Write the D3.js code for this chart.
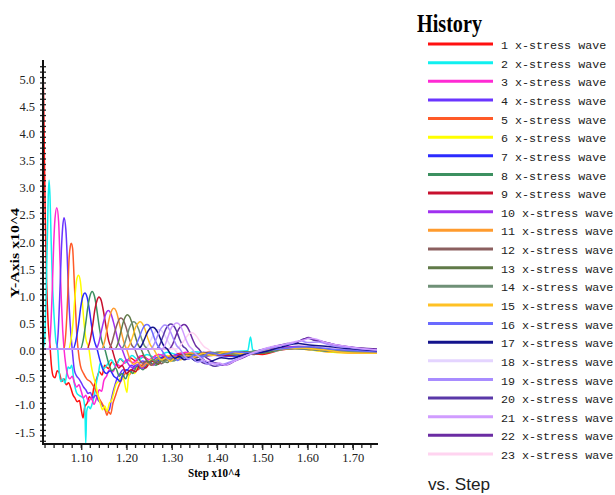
<!DOCTYPE html>
<html>
<head>
<meta charset="utf-8">
<script src="https://cdn.jsdelivr.net/npm/d3@7"></script>
<style>
  body { margin: 0; background: #fff; }
  svg { display: block; }
</style>
</head>
<body>
<div id="plot"></div>
<script>
/* Step 1
 * The data: one array of [step x10^4, value x10^4] pairs per wave
 */
// =================================
var wave1 = [[1.0155,5.22],[1.017,4.6],[1.0185,3.6],[1.0205,2.4],[1.0235,1.2],[1.027,0.45],[1.031,0.05],[1.034,-0.3],[1.038,-0.5],[1.042,-0.53],[1.047,-0.4],[1.052,-0.45],[1.057,-0.6],[1.062,-0.55],[1.067,-0.66],[1.072,-0.62],[1.077,-0.72],[1.082,-0.85],[1.086,-0.9],[1.091,-0.97],[1.096,-0.95],[1.1,-1.12],[1.104,-1.27],[1.108,-1.06],[1.113,-1.0],[1.118,-0.88],[1.123,-0.92],[1.128,-0.7],[1.134,-0.55],[1.14,-0.42],[1.146,-0.48],[1.152,-0.3],[1.16,-0.36],[1.168,-0.24],[1.176,-0.3],[1.186,-0.18],[1.196,-0.26],[1.208,-0.16],[1.22,-0.22],[1.235,-0.12],[1.25,-0.2],[1.27,-0.1],[1.29,-0.16],[1.32,-0.08],[1.35,-0.14],[1.38,-0.06],[1.42,-0.12],[1.46,-0.08],[1.5,-0.1],[1.54,-0.02],[1.58,0.02],[1.62,-0.01],[1.66,-0.05],[1.7,-0.07],[1.7535,-0.06]];
var wave2 = [[1.0155,0],[1.019,0.15],[1.022,0.9],[1.025,2.0],[1.027,2.8],[1.029,3.11],[1.031,2.8],[1.0335,2.0],[1.036,1.3],[1.04,0.6],[1.044,0.15],[1.048,0.0],[1.051,-0.4],[1.055,-0.6],[1.06,-0.55],[1.064,-0.63],[1.068,-0.45],[1.071,-0.33],[1.075,-0.36],[1.079,-0.3],[1.084,-0.6],[1.09,-0.81],[1.096,-0.86],[1.104,-0.9],[1.108,-1.1],[1.11,-1.73],[1.112,-1.15],[1.116,-1.06],[1.12,-1.1],[1.123,-1.04],[1.13,-0.81],[1.135,-0.55],[1.138,-0.45],[1.142,-0.26],[1.15,-0.36],[1.158,-0.28],[1.166,-0.2],[1.176,-0.32],[1.186,-0.18],[1.198,-0.25],[1.212,-0.12],[1.226,-0.2],[1.245,-0.1],[1.265,-0.16],[1.29,-0.06],[1.32,-0.12],[1.35,-0.05],[1.39,-0.1],[1.43,-0.05],[1.468,-0.03],[1.474,0.22],[1.479,-0.02],[1.51,-0.06],[1.55,0.0],[1.6,0.03],[1.65,-0.02],[1.7,-0.05],[1.7535,-0.04]];
var wave3 = [[1.0155,0],[1.028,0],[1.032,0.3],[1.036,1.1],[1.039,1.9],[1.042,2.4],[1.046,2.6],[1.05,2.35],[1.053,1.64],[1.056,0.9],[1.059,0.35],[1.062,0.0],[1.066,-0.3],[1.07,-0.48],[1.075,-0.55],[1.08,-0.5],[1.085,-0.62],[1.09,-0.7],[1.095,-0.66],[1.1,-0.78],[1.105,-0.9],[1.11,-0.85],[1.116,-0.97],[1.122,-0.9],[1.128,-1.02],[1.134,-0.9],[1.14,-0.75],[1.145,-0.78],[1.15,-0.58],[1.156,-0.5],[1.162,-0.38],[1.17,-0.42],[1.178,-0.28],[1.188,-0.32],[1.2,-0.2],[1.215,-0.25],[1.23,-0.13],[1.25,-0.2],[1.27,-0.1],[1.3,-0.15],[1.33,-0.06],[1.37,-0.12],[1.41,-0.08],[1.45,-0.11],[1.49,-0.06],[1.53,0.0],[1.57,0.04],[1.62,0.0],[1.67,-0.04],[1.7535,-0.05]];
var wave4 = [[1.0155,0],[1.045,0],[1.049,0.3],[1.053,1.1],[1.056,1.8],[1.059,2.25],[1.062,2.42],[1.066,2.2],[1.069,1.7],[1.072,1.0],[1.076,0.4],[1.08,0.0],[1.085,-0.4],[1.09,-0.5],[1.095,-0.55],[1.1,-0.62],[1.105,-0.7],[1.11,-0.75],[1.115,-0.82],[1.12,-0.8],[1.126,-0.9],[1.132,-0.85],[1.138,-0.95],[1.144,-1.0],[1.15,-1.08],[1.156,-1.15],[1.162,-1.12],[1.166,-0.95],[1.17,-0.8],[1.175,-0.65],[1.18,-0.52],[1.186,-0.45],[1.192,-0.38],[1.2,-0.4],[1.21,-0.3],[1.22,-0.33],[1.235,-0.22],[1.25,-0.25],[1.27,-0.15],[1.29,-0.2],[1.31,-0.1],[1.34,-0.15],[1.37,-0.06],[1.4,-0.12],[1.44,-0.14],[1.48,-0.08],[1.52,0.0],[1.56,0.03],[1.6,0.01],[1.65,-0.03],[1.7,-0.06],[1.7535,-0.05]];
var wave5 = [[1.0155,0],[1.062,0],[1.066,0.3],[1.07,0.95],[1.073,1.64],[1.076,1.9],[1.078,1.95],[1.081,1.85],[1.084,1.35],[1.087,0.8],[1.09,0.3],[1.093,0.0],[1.098,-0.3],[1.105,-0.45],[1.112,-0.55],[1.12,-0.6],[1.128,-0.7],[1.134,-0.8],[1.14,-0.92],[1.146,-1.0],[1.152,-1.1],[1.157,-1.22],[1.16,-1.15],[1.165,-1.2],[1.17,-1.0],[1.176,-0.85],[1.182,-0.7],[1.19,-0.55],[1.198,-0.45],[1.206,-0.48],[1.215,-0.35],[1.225,-0.38],[1.24,-0.25],[1.26,-0.28],[1.28,-0.15],[1.3,-0.2],[1.33,-0.1],[1.36,-0.14],[1.4,-0.07],[1.44,-0.1],[1.48,-0.05],[1.52,-0.02],[1.56,0.02],[1.61,-0.02],[1.66,-0.06],[1.7535,-0.07]];
var wave6 = [[1.0155,0],[1.072,0],[1.077,0.15],[1.082,0.5],[1.086,0.95],[1.09,1.28],[1.094,1.36],[1.098,1.25],[1.102,0.9],[1.106,0.5],[1.11,0.2],[1.117,0.0],[1.122,-0.3],[1.127,-0.5],[1.132,-0.65],[1.137,-0.85],[1.142,-1.0],[1.147,-1.12],[1.152,-1.05],[1.157,-1.15],[1.162,-1.0],[1.167,-0.95],[1.172,-0.8],[1.177,-0.65],[1.182,-0.6],[1.188,-0.52],[1.194,-0.56],[1.198,-0.72],[1.201,-0.8],[1.204,-0.55],[1.21,-0.42],[1.218,-0.45],[1.228,-0.3],[1.24,-0.34],[1.255,-0.2],[1.27,-0.25],[1.29,-0.12],[1.31,-0.18],[1.34,-0.08],[1.37,-0.13],[1.41,-0.06],[1.45,-0.12],[1.49,-0.04],[1.53,-0.02],[1.57,0.01],[1.62,-0.03],[1.68,-0.07],[1.7535,-0.06]];
var wave7 = [[1.0155,0],[1.082,0],[1.088,0.15],[1.094,0.45],[1.099,0.78],[1.104,0.98],[1.108,1.03],[1.113,0.95],[1.118,0.72],[1.123,0.42],[1.129,0.15],[1.135,0.0],[1.141,-0.2],[1.148,-0.38],[1.156,-0.45],[1.164,-0.4],[1.172,-0.5],[1.18,-0.55],[1.186,-0.6],[1.192,-0.46],[1.2,-0.38],[1.21,-0.42],[1.22,-0.3],[1.232,-0.35],[1.245,-0.22],[1.26,-0.28],[1.28,-0.15],[1.3,-0.2],[1.33,-0.1],[1.36,-0.15],[1.4,-0.08],[1.44,-0.13],[1.48,-0.05],[1.52,0.0],[1.56,0.02],[1.61,-0.01],[1.66,-0.04],[1.7535,-0.05]];
var wave8 = [[1.0155,0],[1.098,0],[1.104,0.15],[1.11,0.48],[1.115,0.8],[1.12,1.0],[1.124,1.06],[1.129,0.98],[1.134,0.75],[1.139,0.45],[1.145,0.16],[1.152,0.0],[1.16,-0.25],[1.168,-0.4],[1.176,-0.35],[1.184,-0.5],[1.19,-0.45],[1.198,-0.55],[1.206,-0.4],[1.214,-0.45],[1.224,-0.3],[1.236,-0.38],[1.25,-0.25],[1.265,-0.3],[1.28,-0.18],[1.3,-0.22],[1.32,-0.12],[1.35,-0.16],[1.39,-0.08],[1.43,-0.12],[1.47,-0.06],[1.51,-0.02],[1.55,0.02],[1.6,0.0],[1.65,-0.04],[1.7535,-0.06]];
var wave9 = [[1.0155,0],[1.113,0],[1.119,0.14],[1.125,0.42],[1.13,0.72],[1.135,0.9],[1.139,0.96],[1.144,0.9],[1.149,0.7],[1.155,0.4],[1.161,0.14],[1.168,0.0],[1.175,-0.2],[1.183,-0.35],[1.19,-0.3],[1.2,-0.45],[1.21,-0.38],[1.22,-0.42],[1.23,-0.3],[1.242,-0.35],[1.255,-0.22],[1.27,-0.28],[1.285,-0.15],[1.3,-0.2],[1.32,-0.1],[1.35,-0.15],[1.38,-0.08],[1.42,-0.12],[1.46,-0.07],[1.5,-0.03],[1.54,0.01],[1.59,0.02],[1.64,-0.02],[1.7,-0.06],[1.7535,-0.05]];
var wave10 = [[1.0155,0],[1.132,0],[1.139,0.12],[1.145,0.35],[1.151,0.56],[1.156,0.68],[1.16,0.71],[1.165,0.66],[1.171,0.5],[1.177,0.3],[1.183,0.1],[1.19,0.0],[1.198,-0.18],[1.206,-0.3],[1.215,-0.35],[1.225,-0.28],[1.235,-0.36],[1.245,-0.25],[1.258,-0.3],[1.27,-0.18],[1.285,-0.22],[1.3,-0.12],[1.32,-0.16],[1.35,-0.08],[1.38,-0.13],[1.42,-0.06],[1.46,-0.1],[1.5,-0.04],[1.54,0.02],[1.58,0.05],[1.62,0.02],[1.67,-0.03],[1.7535,-0.04]];
var wave11 = [[1.0155,0],[1.145,0],[1.151,0.12],[1.157,0.36],[1.163,0.6],[1.168,0.72],[1.172,0.75],[1.177,0.7],[1.183,0.52],[1.189,0.3],[1.195,0.1],[1.2,0.0],[1.208,-0.2],[1.216,-0.28],[1.225,-0.24],[1.234,-0.33],[1.244,-0.26],[1.255,-0.3],[1.268,-0.18],[1.282,-0.22],[1.298,-0.12],[1.315,-0.16],[1.34,-0.08],[1.37,-0.12],[1.41,-0.05],[1.45,-0.09],[1.49,-0.05],[1.53,-0.01],[1.57,0.02],[1.62,-0.01],[1.68,-0.06],[1.7535,-0.08]];
var wave12 = [[1.0155,0],[1.16,0],[1.167,0.1],[1.173,0.28],[1.179,0.45],[1.184,0.55],[1.188,0.57],[1.193,0.53],[1.199,0.4],[1.205,0.22],[1.211,0.08],[1.218,0.0],[1.226,-0.16],[1.235,-0.26],[1.245,-0.22],[1.255,-0.3],[1.266,-0.22],[1.278,-0.27],[1.292,-0.16],[1.308,-0.2],[1.325,-0.1],[1.345,-0.14],[1.37,-0.07],[1.4,-0.11],[1.44,-0.06],[1.48,-0.1],[1.52,-0.03],[1.56,0.0],[1.6,0.02],[1.65,-0.02],[1.7535,-0.06]];
var wave13 = [[1.0155,0],[1.174,0],[1.181,0.1],[1.187,0.3],[1.193,0.5],[1.198,0.6],[1.202,0.63],[1.207,0.59],[1.213,0.45],[1.219,0.25],[1.225,0.09],[1.232,0.0],[1.24,-0.15],[1.249,-0.25],[1.258,-0.2],[1.268,-0.28],[1.279,-0.2],[1.29,-0.25],[1.304,-0.15],[1.32,-0.19],[1.338,-0.1],[1.36,-0.14],[1.385,-0.06],[1.42,-0.1],[1.46,-0.05],[1.5,-0.08],[1.54,-0.01],[1.58,0.03],[1.63,0.0],[1.69,-0.05],[1.7535,-0.05]];
var wave14 = [[1.0155,0],[1.188,0],[1.195,0.08],[1.201,0.24],[1.207,0.4],[1.212,0.48],[1.216,0.5],[1.221,0.47],[1.227,0.36],[1.233,0.2],[1.239,0.07],[1.246,0.0],[1.254,-0.14],[1.263,-0.22],[1.272,-0.18],[1.282,-0.25],[1.293,-0.18],[1.305,-0.22],[1.318,-0.13],[1.334,-0.17],[1.352,-0.09],[1.375,-0.13],[1.4,-0.06],[1.44,-0.1],[1.48,-0.04],[1.52,-0.02],[1.56,0.01],[1.61,0.0],[1.67,-0.04],[1.7535,-0.05]];
var wave15 = [[1.0155,0],[1.2,0],[1.207,0.08],[1.214,0.24],[1.22,0.4],[1.226,0.48],[1.23,0.5],[1.235,0.47],[1.241,0.36],[1.247,0.2],[1.253,0.07],[1.26,0.0],[1.268,-0.12],[1.277,-0.2],[1.287,-0.16],[1.297,-0.23],[1.308,-0.16],[1.32,-0.2],[1.334,-0.12],[1.35,-0.15],[1.368,-0.08],[1.39,-0.12],[1.42,-0.05],[1.46,-0.09],[1.5,-0.03],[1.54,0.0],[1.58,0.02],[1.63,-0.01],[1.69,-0.07],[1.7535,-0.08]];
var wave16 = [[1.0155,0],[1.214,0],[1.221,0.07],[1.228,0.21],[1.235,0.36],[1.24,0.43],[1.245,0.45],[1.25,0.43],[1.256,0.33],[1.262,0.19],[1.269,0.06],[1.276,0.0],[1.284,-0.1],[1.293,-0.18],[1.303,-0.15],[1.313,-0.21],[1.324,-0.15],[1.336,-0.19],[1.35,-0.11],[1.366,-0.14],[1.384,-0.07],[1.41,-0.11],[1.44,-0.05],[1.48,-0.08],[1.52,-0.02],[1.56,0.02],[1.6,0.04],[1.65,0.0],[1.7535,-0.05]];
var wave17 = [[1.0155,0],[1.226,0],[1.233,0.06],[1.24,0.19],[1.247,0.32],[1.253,0.39],[1.258,0.4],[1.263,0.38],[1.27,0.29],[1.276,0.17],[1.283,0.05],[1.29,0.0],[1.298,-0.1],[1.307,-0.17],[1.317,-0.14],[1.328,-0.2],[1.34,-0.15],[1.352,-0.22],[1.366,-0.18],[1.38,-0.25],[1.395,-0.2],[1.41,-0.16],[1.43,-0.18],[1.46,-0.1],[1.5,-0.06],[1.54,0.03],[1.58,0.1],[1.6,0.08],[1.64,0.05],[1.7,0.0],[1.7535,-0.03]];
var wave18 = [[1.0155,0],[1.24,0],[1.247,0.06],[1.254,0.17],[1.261,0.29],[1.267,0.35],[1.272,0.36],[1.277,0.34],[1.284,0.26],[1.291,0.15],[1.298,0.05],[1.305,0.0],[1.313,-0.08],[1.322,-0.15],[1.332,-0.12],[1.343,-0.18],[1.355,-0.13],[1.368,-0.17],[1.382,-0.1],[1.4,-0.13],[1.43,-0.07],[1.47,-0.1],[1.51,-0.03],[1.55,0.01],[1.6,0.03],[1.65,0.0],[1.7535,-0.04]];
var wave19 = [[1.0155,0],[1.253,0],[1.26,0.07],[1.267,0.21],[1.274,0.35],[1.28,0.42],[1.285,0.44],[1.29,0.42],[1.297,0.32],[1.304,0.18],[1.311,0.06],[1.318,0.0],[1.326,-0.1],[1.335,-0.18],[1.345,-0.16],[1.356,-0.24],[1.368,-0.22],[1.38,-0.28],[1.392,-0.26],[1.404,-0.3],[1.418,-0.27],[1.435,-0.22],[1.455,-0.15],[1.48,-0.08],[1.51,0.0],[1.54,0.06],[1.565,0.1],[1.585,0.15],[1.6,0.12],[1.625,0.13],[1.65,0.07],[1.7,0.02],[1.7535,-0.02]];
var wave20 = [[1.0155,0],[1.266,0],[1.273,0.07],[1.28,0.22],[1.287,0.37],[1.293,0.44],[1.298,0.46],[1.303,0.44],[1.31,0.34],[1.317,0.19],[1.324,0.06],[1.332,0.0],[1.34,-0.1],[1.349,-0.18],[1.359,-0.2],[1.37,-0.26],[1.382,-0.28],[1.394,-0.32],[1.406,-0.3],[1.42,-0.28],[1.438,-0.22],[1.458,-0.14],[1.48,-0.06],[1.505,0.0],[1.53,0.05],[1.555,0.1],[1.575,0.12],[1.59,0.18],[1.6,0.2],[1.615,0.16],[1.635,0.13],[1.66,0.08],[1.7,0.03],[1.7535,-0.01]];
var wave21 = [[1.0155,0],[1.278,0],[1.285,0.07],[1.292,0.23],[1.299,0.39],[1.306,0.46],[1.311,0.48],[1.316,0.46],[1.323,0.36],[1.33,0.2],[1.338,0.06],[1.345,0.0],[1.352,-0.08],[1.36,-0.14],[1.37,-0.2],[1.382,-0.24],[1.394,-0.28],[1.405,-0.26],[1.418,-0.3],[1.432,-0.25],[1.45,-0.18],[1.47,-0.1],[1.495,-0.02],[1.52,0.04],[1.545,0.08],[1.57,0.13],[1.59,0.16],[1.605,0.2],[1.62,0.18],[1.64,0.12],[1.67,0.07],[1.71,0.02],[1.7535,-0.02]];
var wave22 = [[1.0155,0],[1.294,0],[1.301,0.07],[1.308,0.22],[1.315,0.36],[1.322,0.43],[1.327,0.45],[1.332,0.43],[1.339,0.33],[1.346,0.18],[1.353,0.06],[1.36,0.0],[1.367,-0.08],[1.375,-0.15],[1.384,-0.2],[1.394,-0.25],[1.404,-0.27],[1.414,-0.3],[1.426,-0.28],[1.44,-0.22],[1.458,-0.16],[1.478,-0.08],[1.5,-0.02],[1.525,0.04],[1.55,0.08],[1.575,0.12],[1.592,0.18],[1.602,0.21],[1.615,0.17],[1.632,0.14],[1.655,0.09],[1.69,0.04],[1.7535,0.0]];
var wave23 = [[1.0155,0],[1.31,0],[1.318,0.05],[1.326,0.14],[1.333,0.23],[1.34,0.29],[1.345,0.3],[1.35,0.28],[1.357,0.21],[1.364,0.12],[1.372,0.04],[1.38,0.0],[1.388,-0.06],[1.397,-0.11],[1.407,-0.09],[1.418,-0.13],[1.43,-0.09],[1.445,-0.11],[1.465,-0.06],[1.49,-0.08],[1.52,-0.02],[1.56,0.02],[1.6,0.05],[1.65,0.01],[1.7535,-0.03]];

var waves = [wave1, wave2, wave3, wave4, wave5, wave6, wave7, wave8, wave9, wave10, wave11, wave12,
    wave13, wave14, wave15, wave16, wave17, wave18, wave19, wave20, wave21, wave22, wave23];

// legend labels
var waveNames = waves.map((w, i) => (i + 1) + " x-stress wave");

// tick values / labels
var yTickLabels = [-1.5, -1.0, -0.5, 0.0, 0.5, 1.0, 1.5, 2.0, 2.5, 3.0, 3.5, 4.0, 4.5, 5.0];
var xTickLabels = [1.10, 1.20, 1.30, 1.40, 1.50, 1.60, 1.70];
var xDomain = [1.0155, 1.7535];
var yDomain = [-1.75, 5.25];

// line colours, one per wave
var colors = ["#ff1010", "#10f0f0", "#ff2ad4", "#6a35ff", "#ff5a28", "#ffff00", "#2b2bff", "#3c9060",
    "#c8102e", "#a030f0", "#ff9b2e", "#8b5f5f", "#607a48", "#6f9077", "#ffc125", "#6a6aff",
    "#13138c", "#e4d4ff", "#a88cff", "#5a38a8", "#d09cff", "#6b2ca3", "#ffd4f0"];

/* Step 2
 * Workspace
 */
// =================================
var svgWidth = 615;
var svgHeight = 495;

var svg = d3.select("#plot")
    .append("svg")
    .attr("width", svgWidth)
    .attr("height", svgHeight);

var xScale = d3.scaleLinear().domain(xDomain).range([43, 377]);
var yScale = d3.scaleLinear().domain(yDomain).range([444, 64]);

/* Step 3
 * The waves
 */
// =================================
var line = d3.line()
    .x(d => xScale(d[0]))
    .y(d => yScale(d[1]))
    .curve(d3.curveMonotoneX);

// paint order: the pale / dark purple ones go underneath so the
// shared zero line shows the lavender one on top, like the original
var paintOrder = [17, 19, 21, 22, 0, 1, 2, 3, 4, 5, 6, 7, 8, 9, 10, 11, 12, 13, 14, 15, 16, 18, 20];

svg.append("g")
    .selectAll("path")
    .data(paintOrder)
    .enter()
    .append("path")
    .attr("d", i => line(waves[i]))
    .attr("fill", "none")
    .attr("stroke", i => colors[i])
    .attr("stroke-width", 1.5)
    .attr("stroke-linejoin", "round");

/* Step 4
 * Axes
 */
// =================================
// minor ticks every 0.1 on y, crossing the axis line
var yMinor = d3.range(-17, 53).map(v => v / 10);
svg.append("g")
    .selectAll("line")
    .data(yMinor)
    .enter()
    .append("line")
    .attr("x1", 40)
    .attr("x2", 46)
    .attr("y1", d => yScale(d))
    .attr("y2", d => yScale(d))
    .attr("stroke", "#222")
    .attr("stroke-width", 1.3);

var leftAxis = d3.axisLeft(yScale)
    .tickValues(yTickLabels)
    .tickSize(0)
    .tickPadding(8)
    .tickFormat(d => d.toFixed(1));

var yAxisG = svg.append("g")
    .attr("transform", "translate(43,0)")
    .call(leftAxis);
yAxisG.select(".domain").remove();
yAxisG.selectAll("text")
    .attr("font-family", "Liberation Serif, Times New Roman, serif")
    .attr("font-size", "12.5px")
    .attr("fill", "#222")
    .attr("dy", "0.45em");

svg.append("line")
    .attr("x1", 43).attr("x2", 43)
    .attr("y1", 60).attr("y2", 445)
    .attr("stroke", "#111")
    .attr("stroke-width", 2);

// x axis: minor ticks every 0.02
var xMinor = d3.range(51, 88).map(v => v / 50);
svg.append("g")
    .selectAll("line")
    .data(xMinor)
    .enter()
    .append("line")
    .attr("x1", d => xScale(d))
    .attr("x2", d => xScale(d))
    .attr("y1", 444)
    .attr("y2", 448)
    .attr("stroke", "#222")
    .attr("stroke-width", 1.3);

var bottomAxis = d3.axisBottom(xScale)
    .tickValues(xTickLabels)
    .tickSize(6)
    .tickPadding(3)
    .tickFormat(d => d.toFixed(2));

var xAxisG = svg.append("g")
    .attr("transform", "translate(0,444)")
    .call(bottomAxis);
xAxisG.select(".domain").remove();
xAxisG.selectAll("line").attr("stroke", "#222").attr("stroke-width", 1.3);
xAxisG.selectAll("text")
    .attr("font-family", "Liberation Serif, Times New Roman, serif")
    .attr("font-size", "12.5px")
    .attr("fill", "#222");

svg.append("line")
    .attr("x1", 42).attr("x2", 378)
    .attr("y1", 444).attr("y2", 444)
    .attr("stroke", "#111")
    .attr("stroke-width", 2);

// axis titles
svg.append("text")
    .attr("x", 214)
    .attr("y", 477)
    .attr("text-anchor", "middle")
    .attr("font-family", "Liberation Serif, Times New Roman, serif")
    .attr("font-weight", "bold")
    .attr("font-size", "13px")
    .attr("textLength", 52)
    .attr("lengthAdjust", "spacingAndGlyphs")
    .text("Step x10^4");

svg.append("text")
    .attr("transform", "translate(19,253) rotate(-90)")
    .attr("text-anchor", "middle")
    .attr("font-family", "Liberation Serif, Times New Roman, serif")
    .attr("font-weight", "bold")
    .attr("font-size", "13px")
    .attr("textLength", 90)
    .attr("lengthAdjust", "spacingAndGlyphs")
    .text("Y-Axis x10^4");

/* Step 5
 * Legend
 */
// =================================
svg.append("text")
    .attr("x", 417)
    .attr("y", 32)
    .attr("font-family", "Liberation Serif, Times New Roman, serif")
    .attr("font-weight", "bold")
    .attr("font-size", "25px")
    .attr("textLength", 65)
    .attr("lengthAdjust", "spacingAndGlyphs")
    .text("History");

var legendY = d3.scaleLinear().domain([0, 22]).range([44, 454]);

var legend = svg.append("g")
    .selectAll("g")
    .data(waveNames)
    .enter()
    .append("g")
    .attr("transform", (d, i) => `translate(0, ${legendY(i)})`);

legend.append("line")
    .attr("x1", 428)
    .attr("x2", 493)
    .attr("stroke", (d, i) => colors[i])
    .attr("stroke-width", 3);

legend.append("text")
    .attr("x", 501)
    .attr("y", 1)
    .attr("dy", "0.35em")
    .attr("font-family", "Liberation Mono, Courier New, monospace")
    .attr("font-size", "11.7px")
    .attr("fill", "#222")
    .text(d => d);

svg.append("text")
    .attr("x", 428)
    .attr("y", 490)
    .attr("font-family", "Liberation Sans, Arial, sans-serif")
    .attr("font-size", "17px")
    .attr("textLength", 62)
    .attr("lengthAdjust", "spacingAndGlyphs")
    .attr("fill", "#222")
    .text("vs. Step");
</script>
</body>
</html>
